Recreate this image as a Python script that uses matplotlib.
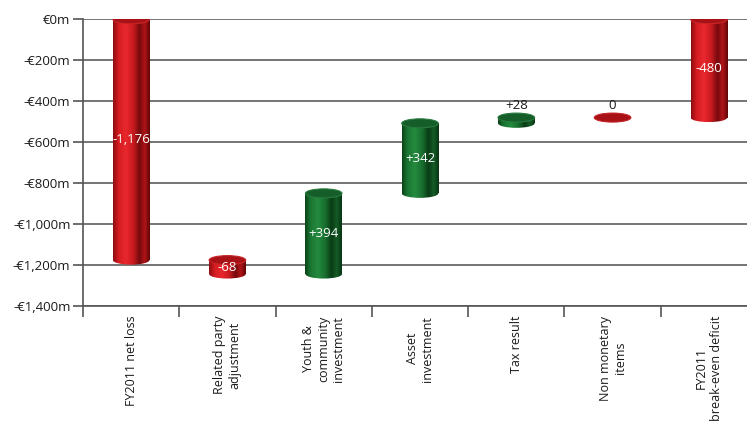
import numpy as np
import matplotlib
matplotlib.use("Agg")
import matplotlib.pyplot as plt
from matplotlib.patches import Ellipse
from matplotlib.colors import LinearSegmentedColormap
from matplotlib.ticker import FuncFormatter, FixedLocator

plt.rcParams["font.family"] = ["Open Sans", "DejaVu Sans"]

# waterfall data (EUR m)
categories = ["FY2011 net loss", "Related party\nadjustment", "Youth &\ncommunity\ninvestment",
              "Asset\ninvestment", "Tax result", "Non monetary\nitems", "FY2011\nbreak-even deficit"]
values = [-1176, -68, 394, 342, 28, 0, -480]
kinds = ["total", "delta", "delta", "delta", "delta", "delta", "total"]
value_labels = ["-1,176", "-68", "+394", "+342", "+28", "0", "-480"]
y_ticks = [0, -200, -400, -600, -800, -1000, -1200, -1400]

RED_STOPS = [(0.0, "#8a0c10"), (0.15, "#d41c21"), (0.35, "#e8292e"), (0.55, "#c81a1f"),
             (0.72, "#760a0d"), (0.86, "#b01418"), (1.0, "#5e0608")]
GREEN_STOPS = [(0.0, "#0b4218"), (0.15, "#1a7632"), (0.35, "#248a3e"), (0.55, "#186e2f"),
               (0.72, "#093c15"), (0.86, "#145c27"), (1.0, "#083412")]
red_cmap = LinearSegmentedColormap.from_list("redcyl", RED_STOPS)
green_cmap = LinearSegmentedColormap.from_list("greencyl", GREEN_STOPS)
RED_TOP, GREEN_TOP = "#a81216", "#155e2a"
RED_RIM, GREEN_RIM = "#c8262a", "#2a7a3e"

BAR_W = 0.38
ELL_H = 44  # ellipse height in data units

fig = plt.figure(figsize=(7.47, 4.26), dpi=100)
ax = fig.add_axes([0.1111, 0.2817, 0.9023, 0.673])

# running totals -> bottoms / tops
lows, highs = [], []
running = 0
for v, k in zip(values, kinds):
    if k == "total":
        start, end = 0, v
        running = v
    else:
        start, end = running, running + v
        running = end
    lows.append(min(start, end))
    highs.append(max(start, end))

x = np.arange(len(categories))
heights = [h - l for h, l in zip(highs, lows)]
bar_colors = ["#1a7632" if (k == "delta" and v > 0) else "#c81a1f" for v, k in zip(values, kinds)]
bars = ax.bar(x, heights, bottom=lows, width=BAR_W, color=bar_colors, edgecolor="none", zorder=2)

grad = np.linspace(0, 1, 256).reshape(1, -1)
for xi, bar, v, k, lo, hi in zip(x, bars, values, kinds, lows, highs):
    green = k == "delta" and v > 0
    cmap = green_cmap if green else red_cmap
    x0, x1 = xi - BAR_W / 2, xi + BAR_W / 2
    if hi > lo:
        im = ax.imshow(grad, cmap=cmap, aspect="auto", extent=[x0, x1, lo, hi], zorder=2.1)
        im.set_clip_path(bar)
    # rounded bottom
    bot = Ellipse((xi, lo), BAR_W, ELL_H, facecolor="none", edgecolor="none")
    ax.add_patch(bot)
    im2 = ax.imshow(grad, cmap=cmap, aspect="auto",
                    extent=[x0, x1, lo - ELL_H / 2, lo + ELL_H / 2], zorder=2.1)
    im2.set_clip_path(bot)
    # top face
    ax.add_patch(Ellipse((xi, hi), BAR_W, ELL_H, facecolor=GREEN_TOP if green else RED_TOP,
                         edgecolor=GREEN_RIM if green else RED_RIM, linewidth=0.8, zorder=2.3))

for xi, lbl, lo, hi in zip(x, value_labels, lows, highs):
    if hi - lo > 60:
        ax.text(xi, (lo + hi) / 2, lbl, ha="center", va="center", color="white",
                fontsize=9.5, zorder=4)
    else:
        ax.text(xi, hi + 26, lbl, ha="center", va="bottom", color="#1a1a1a",
                fontsize=9.5, zorder=4)

ax.set_xlim(-0.5, len(categories) - 0.5)
ax.set_ylim(-1400, 0)

ax.yaxis.set_major_locator(FixedLocator(y_ticks))
ax.yaxis.set_major_formatter(FuncFormatter(
    lambda v, _: "€0m" if v == 0 else f"-€{abs(int(v)):,}m"))
ax.grid(axis="y", color="#5c5c5c", linewidth=1.2, zorder=0)
ax.set_axisbelow(True)

ax.set_xticks(np.arange(len(categories) + 1) - 0.5)
ax.set_xticklabels([])
ax.set_xticks(x, minor=True)
ax.set_xticklabels(categories, minor=True, rotation=90, ha="center", va="top",
                   multialignment="center", fontsize=9, color="#1a1a1a")
ax.tick_params(axis="x", which="major", length=8, width=1.2, color="#555555")
ax.tick_params(axis="x", which="minor", length=0, pad=7)
ax.tick_params(axis="y", length=7, width=1.2, color="#555555", pad=2,
               labelsize=9.5, labelcolor="#1a1a1a")

for s in ("top", "right"):
    ax.spines[s].set_visible(False)
for s in ("left", "bottom"):
    ax.spines[s].set_color("#555555")
    ax.spines[s].set_linewidth(1.2)

fig.savefig("out.png", dpi=100)
